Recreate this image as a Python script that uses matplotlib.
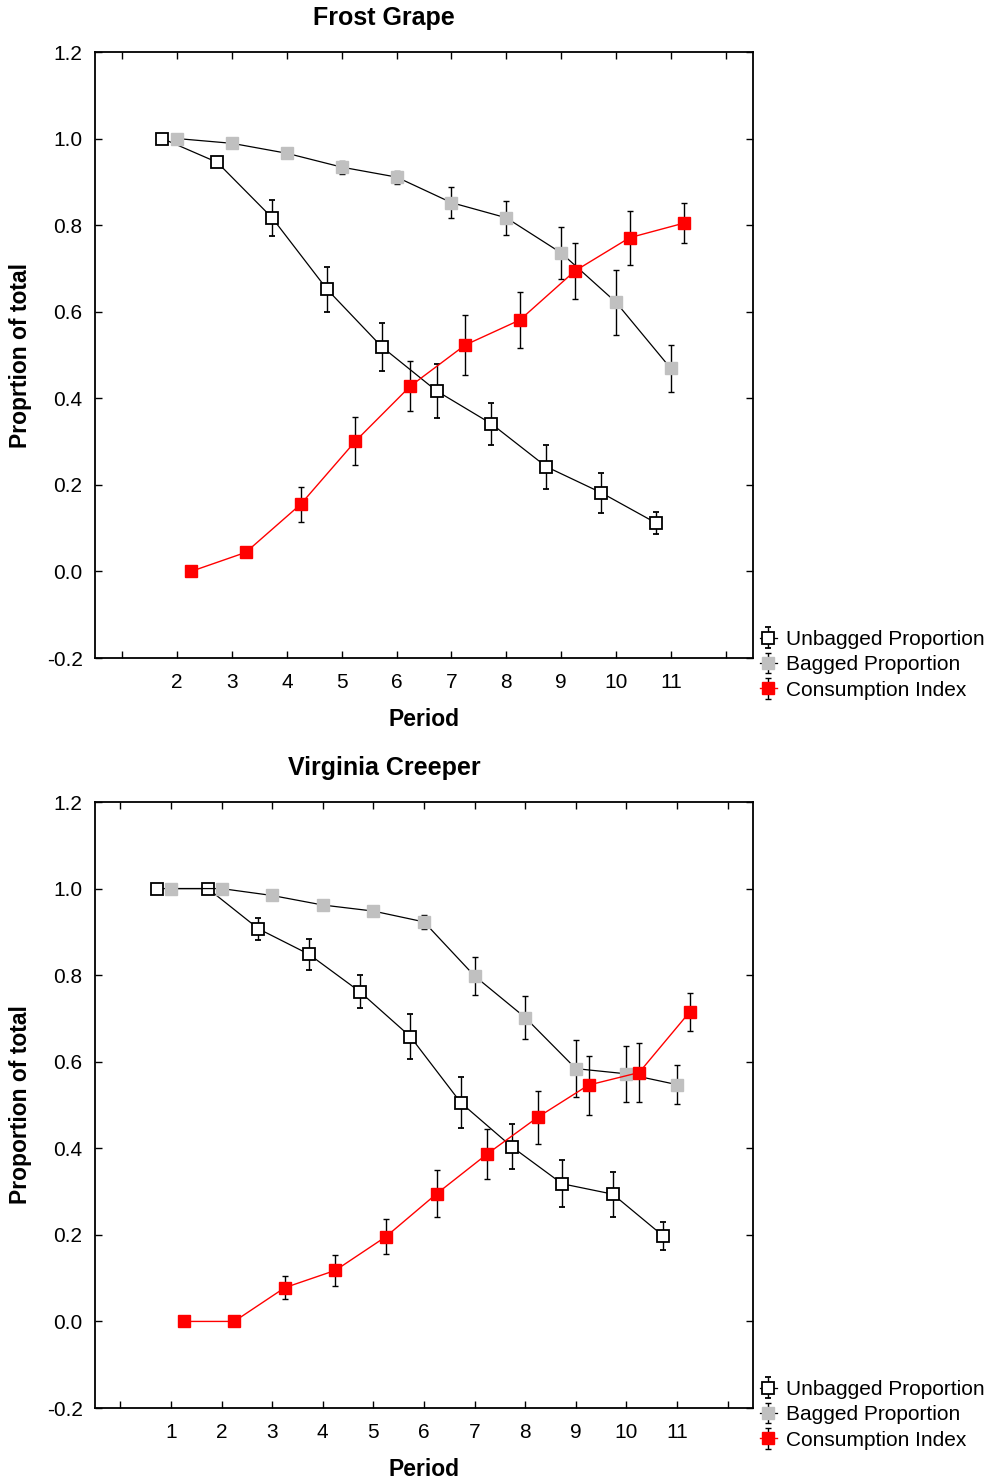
import matplotlib
matplotlib.use("Agg")
import matplotlib.pyplot as plt
import numpy as np

plt.rcParams['font.family'] = ['Liberation Sans', 'DejaVu Sans']

# ---------------- data ----------------
fg_periods = [2, 3, 4, 5, 6, 7, 8, 9, 10, 11]
fg_unbagged = [1.0, 0.945, 0.817, 0.652, 0.519, 0.417, 0.341, 0.242, 0.182, 0.112]
fg_unbagged_err = [0.0, 0.0, 0.041, 0.052, 0.055, 0.062, 0.049, 0.051, 0.046, 0.026]
fg_bagged = [1.0, 0.989, 0.966, 0.934, 0.911, 0.852, 0.817, 0.736, 0.622, 0.469]
fg_bagged_err = [0.0, 0.0, 0.0, 0.015, 0.015, 0.035, 0.039, 0.060, 0.075, 0.054]
fg_consumption = [0.0, 0.044, 0.155, 0.301, 0.428, 0.523, 0.581, 0.694, 0.771, 0.805]
fg_consumption_err = [0.0, 0.0, 0.040, 0.056, 0.058, 0.069, 0.064, 0.065, 0.062, 0.046]

vc_periods = [1, 2, 3, 4, 5, 6, 7, 8, 9, 10, 11]
vc_unbagged = [1.0, 1.0, 0.907, 0.848, 0.762, 0.658, 0.505, 0.404, 0.318, 0.294, 0.197]
vc_unbagged_err = [0.0, 0.0, 0.026, 0.036, 0.039, 0.052, 0.059, 0.052, 0.054, 0.052, 0.032]
vc_bagged = [1.0, 1.0, 0.984, 0.962, 0.948, 0.923, 0.798, 0.702, 0.584, 0.572, 0.547]
vc_bagged_err = [0.0, 0.0, 0.0, 0.010, 0.005, 0.016, 0.044, 0.049, 0.066, 0.065, 0.045]
vc_consumption = [0.0, 0.0, 0.078, 0.118, 0.196, 0.295, 0.387, 0.472, 0.546, 0.575, 0.715]
vc_consumption_err = [0.0, 0.0, 0.026, 0.035, 0.041, 0.054, 0.057, 0.061, 0.068, 0.069, 0.044]

series_labels = ["Unbagged Proportion", "Bagged Proportion", "Consumption Index"]
y_ticks = [-0.2, 0.0, 0.2, 0.4, 0.6, 0.8, 1.0, 1.2]

W, H = 989, 1481
fig = plt.figure(figsize=(W / 100, H / 100), dpi=100)


def make_panel(top_px, periods, unb, unb_e, bag, bag_e, con, con_e, xticks, title, ylabel):
    left, right, bottom_px = 95, 753, top_px + 606
    ax = fig.add_axes([left / W, 1 - bottom_px / H, (right - left) / W, 606 / H])
    p = np.array(periods, dtype=float)
    ekw = dict(ecolor='black', elinewidth=1.0, capsize=2.5, capthick=1.0)
    h1 = ax.errorbar(p - 0.27, unb, yerr=unb_e, color='black', lw=0.9, marker='s', ms=8,
                     mfc='white', mec='black', mew=1.3, label=series_labels[0], **ekw)
    h2 = ax.errorbar(p, bag, yerr=bag_e, color='black', lw=0.9, marker='s', ms=8,
                     mfc='#C0C0C0', mec='#C0C0C0', label=series_labels[1], **ekw)
    h3 = ax.errorbar(p + 0.25, con, yerr=con_e, color='#FF0000', lw=1.0, marker='s', ms=8,
                     mfc='#FF0000', mec='#FF0000', label=series_labels[2], **ekw)
    ax.set_xlim(xticks[0] - 0.5, xticks[-1] + 0.5)
    ax.set_ylim(-0.2, 1.2)
    ax.set_xticks(xticks)
    ax.set_xticklabels([''] + [str(t) for t in xticks[1:-1]] + [''])
    ax.set_yticks(y_ticks)
    ax.set_yticklabels([f"{v:.1f}" for v in y_ticks])
    ax.tick_params(direction='in', top=True, right=True, length=5, width=1.0, labelsize=15)
    ax.tick_params(axis='x', pad=11)
    ax.tick_params(axis='y', pad=9)
    for s in ax.spines.values():
        s.set_linewidth(1.3)
    fig.text(384 / W, 1 - (top_px - 34) / H, title, ha='center', va='center',
             fontsize=18, fontweight='bold')
    fig.text(424 / W, 1 - (bottom_px + 61) / H, "Period", ha='center', va='center',
             fontsize=16.5, fontweight='bold')
    fig.text(21 / W, 1 - (top_px + 303) / H, ylabel, ha='center', va='center',
             rotation=90, fontsize=16.5, fontweight='bold')
    fig.legend(handles=[h1, h2, h3], labels=series_labels,
               loc='upper left', bbox_to_anchor=(760 / W, 1 - (bottom_px - 28) / H),
               frameon=False, fontsize=15, handlelength=0.8, handletextpad=0.45,
               labelspacing=0.3, borderpad=0.0, borderaxespad=0.0)
    return ax


make_panel(52, fg_periods, fg_unbagged, fg_unbagged_err, fg_bagged, fg_bagged_err,
           fg_consumption, fg_consumption_err, list(range(1, 13)), "Frost Grape",
           "Proprtion of total")
make_panel(802, vc_periods, vc_unbagged, vc_unbagged_err, vc_bagged, vc_bagged_err,
           vc_consumption, vc_consumption_err, list(range(0, 13)), "Virginia Creeper",
           "Proportion of total")

fig.savefig("out.png", dpi=100)
